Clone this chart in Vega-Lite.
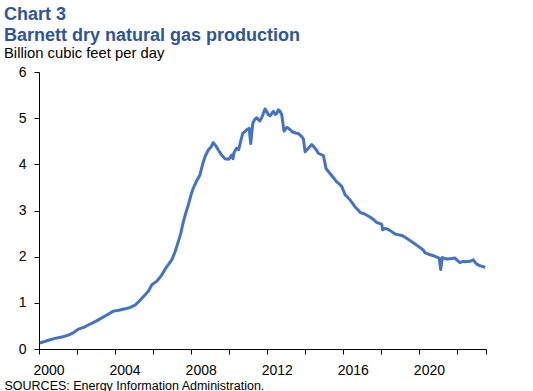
{
  "$schema": "https://vega.github.io/schema/vega-lite/v6.json",
  "width": 447,
  "height": 277,
  "autosize": {"type": "none"},
  "padding": {"left": 39, "top": 72, "right": 47, "bottom": 42},
  "background": "white",
  "config": {"view": {"stroke": null}},
  "title": {
    "text": ["Chart 3", "Barnett dry natural gas production"],
    "subtitle": "Billion cubic feet per day",
    "anchor": "start",
    "frame": "group",
    "dx": -35,
    "font": "Liberation Sans",
    "fontSize": 18,
    "fontWeight": "bold",
    "color": "#2F5597",
    "lineHeight": 21,
    "subtitleFont": "Liberation Sans",
    "subtitleFontSize": 14.8,
    "subtitleColor": "#000000",
    "subtitlePadding": 1,
    "offset": 4
  },
  "data": {
    "values": [
      {"t": 2000.04, "v": 0.13}, {"t": 2000.5, "v": 0.19}, {"t": 2000.84, "v": 0.23}, {"t": 2001.2, "v": 0.26},
      {"t": 2001.54, "v": 0.30}, {"t": 2001.8, "v": 0.35}, {"t": 2002.07, "v": 0.43}, {"t": 2002.35, "v": 0.47},
      {"t": 2002.59, "v": 0.52}, {"t": 2002.85, "v": 0.57}, {"t": 2003.12, "v": 0.63}, {"t": 2003.5, "v": 0.72},
      {"t": 2003.91, "v": 0.82}, {"t": 2004.2, "v": 0.84}, {"t": 2004.52, "v": 0.87}, {"t": 2004.8, "v": 0.90},
      {"t": 2005.05, "v": 0.95}, {"t": 2005.3, "v": 1.05}, {"t": 2005.57, "v": 1.17}, {"t": 2005.75, "v": 1.25},
      {"t": 2005.93, "v": 1.39}, {"t": 2006.2, "v": 1.47}, {"t": 2006.45, "v": 1.60}, {"t": 2006.71, "v": 1.78},
      {"t": 2006.98, "v": 1.93}, {"t": 2007.15, "v": 2.10}, {"t": 2007.32, "v": 2.32}, {"t": 2007.45, "v": 2.50},
      {"t": 2007.59, "v": 2.76}, {"t": 2007.72, "v": 2.95}, {"t": 2007.85, "v": 3.12}, {"t": 2008.0, "v": 3.35},
      {"t": 2008.11, "v": 3.48}, {"t": 2008.3, "v": 3.65}, {"t": 2008.46, "v": 3.77}, {"t": 2008.6, "v": 4.00},
      {"t": 2008.73, "v": 4.17}, {"t": 2008.9, "v": 4.31}, {"t": 2009.05, "v": 4.38}, {"t": 2009.16, "v": 4.47},
      {"t": 2009.3, "v": 4.40}, {"t": 2009.43, "v": 4.31}, {"t": 2009.6, "v": 4.20}, {"t": 2009.78, "v": 4.12},
      {"t": 2009.95, "v": 4.11}, {"t": 2010.04, "v": 4.14}, {"t": 2010.13, "v": 4.20}, {"t": 2010.2, "v": 4.12},
      {"t": 2010.25, "v": 4.25}, {"t": 2010.39, "v": 4.35}, {"t": 2010.5, "v": 4.32}, {"t": 2010.57, "v": 4.45},
      {"t": 2010.71, "v": 4.67}, {"t": 2010.85, "v": 4.72}, {"t": 2010.95, "v": 4.76}, {"t": 2011.05, "v": 4.78},
      {"t": 2011.13, "v": 4.45}, {"t": 2011.24, "v": 4.89}, {"t": 2011.35, "v": 4.98}, {"t": 2011.45, "v": 5.01},
      {"t": 2011.55, "v": 4.96}, {"t": 2011.62, "v": 4.94}, {"t": 2011.75, "v": 5.05}, {"t": 2011.88, "v": 5.20},
      {"t": 2011.96, "v": 5.15}, {"t": 2012.05, "v": 5.08}, {"t": 2012.15, "v": 5.05}, {"t": 2012.32, "v": 5.15},
      {"t": 2012.42, "v": 5.08}, {"t": 2012.5, "v": 5.10}, {"t": 2012.58, "v": 5.18}, {"t": 2012.67, "v": 5.15},
      {"t": 2012.76, "v": 5.08}, {"t": 2012.88, "v": 4.72}, {"t": 2013.0, "v": 4.79}, {"t": 2013.05, "v": 4.80},
      {"t": 2013.23, "v": 4.74}, {"t": 2013.34, "v": 4.70}, {"t": 2013.5, "v": 4.68}, {"t": 2013.63, "v": 4.67},
      {"t": 2013.81, "v": 4.60}, {"t": 2013.9, "v": 4.55}, {"t": 2013.99, "v": 4.27}, {"t": 2014.16, "v": 4.35},
      {"t": 2014.34, "v": 4.43}, {"t": 2014.51, "v": 4.35}, {"t": 2014.6, "v": 4.30}, {"t": 2014.68, "v": 4.24},
      {"t": 2014.95, "v": 4.19}, {"t": 2015.09, "v": 3.91}, {"t": 2015.3, "v": 3.80}, {"t": 2015.5, "v": 3.70},
      {"t": 2015.65, "v": 3.62}, {"t": 2015.8, "v": 3.57}, {"t": 2015.92, "v": 3.52}, {"t": 2016.09, "v": 3.34},
      {"t": 2016.2, "v": 3.30}, {"t": 2016.35, "v": 3.23}, {"t": 2016.5, "v": 3.15}, {"t": 2016.61, "v": 3.08},
      {"t": 2016.75, "v": 3.02}, {"t": 2016.88, "v": 2.96}, {"t": 2017.0, "v": 2.94}, {"t": 2017.14, "v": 2.92},
      {"t": 2017.4, "v": 2.86}, {"t": 2017.6, "v": 2.80}, {"t": 2017.75, "v": 2.74}, {"t": 2017.9, "v": 2.72},
      {"t": 2018.02, "v": 2.70}, {"t": 2018.06, "v": 2.58}, {"t": 2018.15, "v": 2.61}, {"t": 2018.3, "v": 2.60},
      {"t": 2018.45, "v": 2.57}, {"t": 2018.72, "v": 2.49}, {"t": 2019.07, "v": 2.46}, {"t": 2019.33, "v": 2.40},
      {"t": 2019.5, "v": 2.35}, {"t": 2019.68, "v": 2.30}, {"t": 2019.85, "v": 2.25}, {"t": 2020.03, "v": 2.20},
      {"t": 2020.2, "v": 2.14}, {"t": 2020.29, "v": 2.09}, {"t": 2020.56, "v": 2.04}, {"t": 2020.75, "v": 2.02},
      {"t": 2020.91, "v": 1.99}, {"t": 2021.04, "v": 1.97}, {"t": 2021.12, "v": 1.72}, {"t": 2021.2, "v": 1.98},
      {"t": 2021.44, "v": 1.95}, {"t": 2021.7, "v": 1.96}, {"t": 2021.87, "v": 1.97}, {"t": 2021.96, "v": 1.93},
      {"t": 2022.13, "v": 1.87}, {"t": 2022.3, "v": 1.90}, {"t": 2022.4, "v": 1.89}, {"t": 2022.66, "v": 1.90},
      {"t": 2022.83, "v": 1.93}, {"t": 2022.92, "v": 1.88}, {"t": 2023.01, "v": 1.84}, {"t": 2023.2, "v": 1.80},
      {"t": 2023.3, "v": 1.79}, {"t": 2023.46, "v": 1.77}
    ]
  },
  "mark": {"type": "line", "color": "#4472C4", "strokeWidth": 3, "strokeJoin": "round", "clip": true},
  "encoding": {
    "x": {
      "field": "t",
      "type": "quantitative",
      "scale": {"domain": [2000, 2023.5], "nice": false, "zero": false},
      "axis": {
        "values": [2000, 2001, 2002, 2003, 2004, 2005, 2006, 2007, 2008, 2009, 2010, 2011, 2012, 2013, 2014, 2015, 2016, 2017, 2018, 2019, 2020, 2021, 2022, 2023, 2023.5],
        "format": "d",
        "labelExpr": "datum.value % 4 == 0 && datum.value <= 2020 ? datum.label : ''",
        "labelOffset": 9.5,
        "labelFlush": false,
        "labelOverlap": false,
        "labelBound": false,
        "grid": false,
        "tickSize": 5,
        "tickColor": "#000000",
        "domainColor": "#000000",
        "labelFont": "Liberation Sans",
        "labelFontSize": 14,
        "labelColor": "#000000",
        "labelPadding": 9,
        "title": "SOURCES: Energy Information Administration.",
        "titleX": -35,
        "titleY": 40,
        "titleAlign": "left",
        "titleBaseline": "alphabetic",
        "titleFont": "Liberation Sans",
        "titleFontSize": 12.5,
        "titleFontWeight": "normal",
        "titleColor": "#000000"
      }
    },
    "y": {
      "field": "v",
      "type": "quantitative",
      "scale": {"domain": [0, 6], "nice": false},
      "axis": {
        "values": [0, 1, 2, 3, 4, 5, 6],
        "grid": false,
        "title": null,
        "tickSize": 5,
        "tickColor": "#000000",
        "domainColor": "#000000",
        "labelFont": "Liberation Sans",
        "labelFontSize": 14,
        "labelColor": "#000000",
        "labelPadding": 8
      }
    }
  }
}
